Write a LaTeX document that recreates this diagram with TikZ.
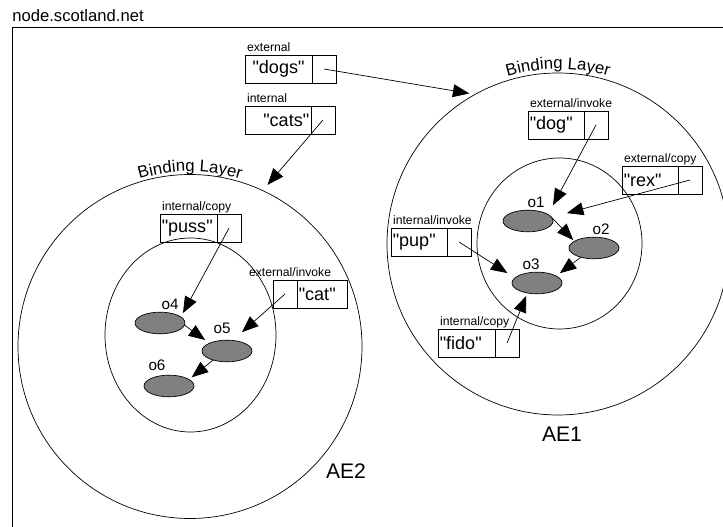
\documentclass[tikz,border=0pt]{standalone}
\usepackage{fontspec}
\setmainfont{Liberation Sans}[Ligatures=TeXOff]
\usetikzlibrary{arrows.meta,positioning,shapes.geometric,decorations.text}
\definecolor{objgrey}{RGB}{128,128,128}

\begin{document}
\begin{tikzpicture}[x=0.3mm, y=0.3mm, line width=0.6pt,
	tag/.style={font=\fontsize{10.4}{12}\selectfont, inner xsep=1.5pt, inner ysep=2.8pt, text depth=0pt, anchor=south west},
	namecell/.style={draw, anchor=north west, outer sep=0pt, inner xsep=1.5pt, minimum height=23.9pt, text width=#1, align=left, font=\fontsize{15.4}{18}\selectfont},
	namecell/.default=44.8pt,
	ptrcell/.style={draw, outer sep=0pt, inner sep=0pt, minimum width=20.5pt, minimum height=23.9pt},
	obj/.style={ellipse, draw, fill=objgrey, inner sep=0pt, outer sep=0pt, minimum width=15mm, minimum height=6.5mm},
	objtag/.style={font=\fontsize{13}{15}\selectfont, inner sep=1.5pt},
	layer/.style={circle, draw, inner sep=0pt, outer sep=0pt},
	core/.style={ellipse, draw, inner sep=0pt, outer sep=0pt},
	bind/.style={-{Triangle[length=14pt, width=11pt]}},
	aename/.style={font=\fontsize{18}{21}\selectfont}]

	\useasboundingbox (0,0) rectangle (723,527);
	\clip (0,0) rectangle (723,527);

	% host frame
	\node[anchor=base west, inner sep=0pt, font=\fontsize{14.2}{17}\selectfont] (host) at (12,505) {node.scotland.net};
	\draw[line width=0.8pt] (12.5,-20) rectangle (760,500);

	% the two engines with their binding layers
	\node[layer, minimum size=102.6mm] (ae1) at (558,283) {};
	\node[core, minimum width=49.5mm, minimum height=51.3mm] (ae1in) at (559.5,283.5) {};
	\node[layer, minimum size=103.2mm] (ae2) at (190,180.5) {};
	\node[core, minimum width=51.3mm, minimum height=58.2mm] (ae2in) at (190.5,192) {};
	\node[aename] (ae1name) at (562,93) {AE1};
	\node[aename] (ae2name) at (346,56) {AE2};

	\foreach \eng in {ae1, ae2}
		\path[decorate, decoration={text along path, text align=center,
			text={|\fontsize{14.3}{16}\selectfont|Binding Layer}}]
			([shift={(150:175)}]\eng.center) arc[start angle=150, end angle=30, radius=175];

	% names bound on the host
	\node[namecell=54.2pt, align=center, label={[tag]north west:external}] (dogs) at (245,472) {"dogs"};
	\node[ptrcell, right=0pt of dogs] (dogsp) {};
	\node[namecell=53.3pt, align=right, label={[tag]north west:internal}] (cats) at (245,421) {"cats"};
	\node[ptrcell, right=0pt of cats] (catsp) {};

	% AE1
	\node[namecell, label={[tag]north west:external/invoke}] (dog) at (528,416) {"dog"};
	\node[ptrcell, right=0pt of dog] (dogp) {};
	\node[namecell, label={[tag]north west:external/copy}] (rex) at (622,361) {"rex"};
	\node[ptrcell, right=0pt of rex] (rexp) {};
	\node[namecell, label={[tag]north west:internal/invoke}] (pup) at (391,299) {"pup"};
	\node[ptrcell, right=0pt of pup] (pupp) {};
	\node[namecell=45.7pt, label={[tag]north west:internal/copy}] (fido) at (438,198) {"fido"};
	\node[ptrcell, right=0pt of fido] (fidop) {};

	\node[obj, label={[objtag, xshift=2.4mm]above:o1}] (o1) at (528,306) {};
	\node[obj, label={[objtag, xshift=2.1mm]above:o2}] (o2) at (594,279) {};
	\node[obj, label={[objtag, xshift=-1.8mm]above:o3}] (o3) at (537,244) {};

	% AE2
	\node[namecell=45.7pt, label={[tag]north west:internal/copy}] (puss) at (160,313) {"puss"};
	\node[ptrcell, right=0pt of puss] (pussp) {};
	\node[ptrcell, anchor=north west, label={[tag, xshift=-7.8mm]north west:external/invoke}] (catp) at (273,247) {};
	\node[namecell=39.7pt, right=0pt of catp] (cat) {"cat"};

	\node[obj, label={[objtag, xshift=3mm]above:o4}] (o4) at (160,204) {};
	\node[obj, label={[objtag, xshift=-1.5mm, yshift=1.2mm]above:o5}] (o5) at (227,176) {};
	\node[obj, label={[objtag, xshift=-3.6mm, yshift=0.6mm]above:o6}] (o6) at (169,141) {};

	% bindings
	\draw[bind, shorten >=5pt] (dogsp.center) -- (ae1.119);
	\draw[bind, shorten >=6.4pt] (catsp.center) -- (ae2.65);
	\draw[bind, shorten >=9pt] (dogp.center) -- (o1.18);
	\draw[bind, shorten >=13.7pt] (rexp.center) -- (o1.9);
	\draw[bind, shorten >=7.7pt] (pupp.center) -- (o3.167);
	\draw[bind, shorten >=2.7pt] (fidop.center) -- (o3.226);
	\draw[bind, shorten >=1.5pt] (o1.10) -- (o2.161);
	\draw[bind, shorten >=4pt] (o2.215) -- (o3.20);
	\draw[bind, shorten >=3.8pt] (pussp.center) -- (o4.16);
	\draw[bind, shorten >=10.7pt] (catp.center) -- (o5.62);
	\draw[bind, shorten >=4.7pt] (o4.-5) -- (o5.156);
	\draw[bind, shorten >=3pt] (o5.213) -- (o6.18);
\end{tikzpicture}
\end{document}
